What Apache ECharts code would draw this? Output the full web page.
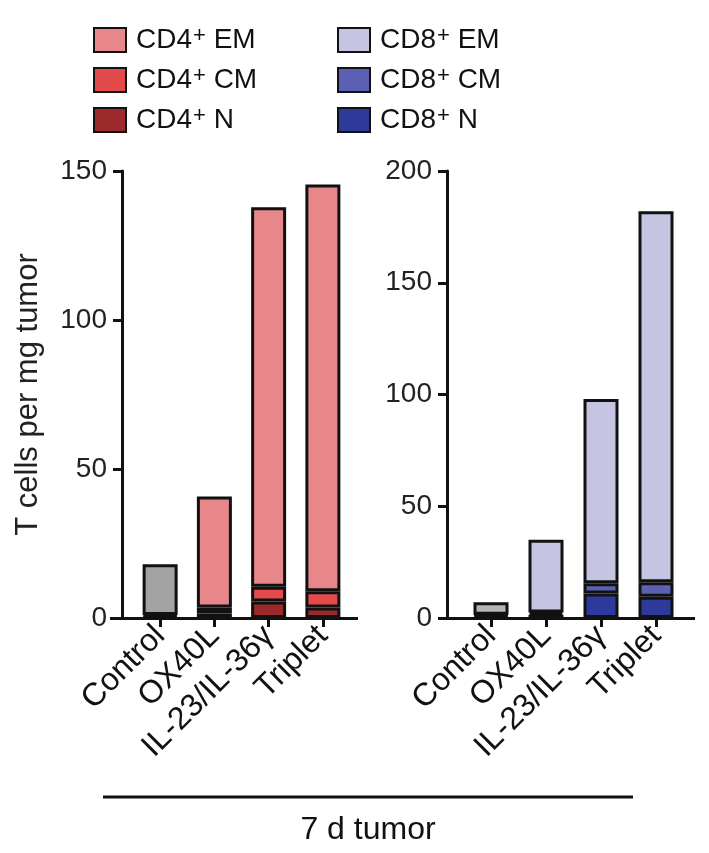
<!DOCTYPE html>
<html>
<head>
<meta charset="utf-8">
<script src="https://cdn.jsdelivr.net/npm/echarts@6/dist/echarts.min.js"></script>
<style>
html,body{margin:0;padding:0;background:#fff;}
#c{width:709px;height:853px;}
</style>
</head>
<body>
<div id="c"></div>
<script>
var categories = ['Control', 'OX40L', 'IL-23/IL-36γ', 'Triplet'];
var cd4N  = [0.5, 1.5, 5.5, 3.5];
var cd4CM = [0.5, 2.0, 5.0, 5.5];
var cd4EM = [17.0, 37.3, 127.3, 136.5];
var cd8N  = [1.0, 1.5, 11.0, 9.5];
var cd8CM = [0.5, 1.0, 4.5, 6.5];
var cd8EM = [5.5, 32.5, 82.5, 166.0];
var yTitle = 'T cells per mg tumor';
var groupTitle = '7 d tumor';

var FONT = 'Liberation Sans, Arial, Helvetica, sans-serif';
var colors = {
  cd4EM: '#E8878A', cd4CM: '#E24A4C', cd4N: '#9C2A2C',
  cd8EM: '#C5C5E3', cd8CM: '#5B60B2', cd8N: '#2D3A9C',
  ctrl4: '#A3A3A3', ctrl8: '#B4B4B4'
};

function withControl(arr, c) {
  return arr.map(function (v, i) {
    return i === 0 ? { value: v, itemStyle: { color: c } } : v;
  });
}

function barSeries(name, data, color, axisIdx, stack) {
  return {
    name: name, type: 'bar', stack: stack,
    xAxisIndex: axisIdx, yAxisIndex: axisIdx,
    data: data, barWidth: 35,
    itemStyle: { color: color, borderColor: '#111', borderWidth: 3 },
    emphasis: { disabled: true }
  };
}

function legendFmt(name) {
  var p = name.split('+');
  return '{g|}{b|' + p[0] + '}{s|+}{b|' + p[1] + '}';
}
var legendText = {
  fontFamily: FONT, color: '#111',
  rich: {
    g: { width: 5, height: 10, lineHeight: 30, verticalAlign: 'middle' },
    b: { fontSize: 28, fontFamily: FONT, color: '#111', lineHeight: 30, verticalAlign: 'middle' },
    s: { fontSize: 22, fontFamily: FONT, color: '#111', lineHeight: 13, verticalAlign: 'top', padding: [0, 0, 0, 1] }
  }
};

function yAx(gi, max, interval, offset, showName) {
  return {
    type: 'value', gridIndex: gi, min: 0, max: max, interval: interval, offset: offset,
    axisLine: { show: true, lineStyle: { color: '#111', width: 3 } },
    axisTick: { show: true, length: 9, lineStyle: { color: '#111', width: 3 } },
    axisLabel: { fontSize: 28, fontFamily: FONT, color: '#222', margin: 15 },
    splitLine: { show: false },
    name: showName ? yTitle : '', nameLocation: 'middle', nameGap: 78, nameRotate: 90,
    nameTextStyle: { fontSize: 31, fontFamily: FONT, color: '#222' }
  };
}
function xAx(gi) {
  return {
    type: 'category', gridIndex: gi, data: categories,
    axisLine: { show: false },
    axisTick: { show: true, alignWithLabel: true, length: 9, inside: false, lineStyle: { color: '#111', width: 3 } },
    axisLabel: { rotate: 45, fontSize: 32, fontFamily: FONT, color: '#111', margin: 13, interval: 0 }
  };
}

var chart = echarts.init(document.getElementById('c'), null, { renderer: 'canvas' });
var option = {
  backgroundColor: '#fff',
  animation: false,
  grid: [
    { left: 133, width: 217, top: 171, bottom: 235, containLabel: false },
    { left: 463.5, width: 220, top: 171, bottom: 235, containLabel: false }
  ],
  legend: [
    { orient: 'vertical', left: 88, top: 20, itemWidth: 32, itemHeight: 24, itemGap: 11,
      data: ['CD4+ EM', 'CD4+ CM', 'CD4+ N'], formatter: legendFmt, textStyle: legendText,
      selectedMode: false, icon: 'rect' },
    { orient: 'vertical', left: 332, top: 20, itemWidth: 32, itemHeight: 24, itemGap: 11,
      data: ['CD8+ EM', 'CD8+ CM', 'CD8+ N'], formatter: legendFmt, textStyle: legendText,
      selectedMode: false, icon: 'rect' }
  ],
  xAxis: [xAx(0), xAx(1)],
  yAxis: [yAx(0, 150, 50, 11, true), yAx(1, 200, 50, 16.5, false)],
  series: [
    barSeries('CD4+ N', withControl(cd4N, colors.ctrl4), colors.cd4N, 0, 'cd4'),
    barSeries('CD4+ CM', withControl(cd4CM, colors.ctrl4), colors.cd4CM, 0, 'cd4'),
    barSeries('CD4+ EM', withControl(cd4EM, colors.ctrl4), colors.cd4EM, 0, 'cd4'),
    barSeries('CD8+ N', withControl(cd8N, colors.ctrl8), colors.cd8N, 1, 'cd8'),
    barSeries('CD8+ CM', withControl(cd8CM, colors.ctrl8), colors.cd8CM, 1, 'cd8'),
    barSeries('CD8+ EM', withControl(cd8EM, colors.ctrl8), colors.cd8EM, 1, 'cd8')
  ],
  graphic: [
    { type: 'line', shape: { x1: 110, y1: 618.5, x2: 358, y2: 618.5 }, style: { stroke: '#111', lineWidth: 3 } },
    { type: 'line', shape: { x1: 444, y1: 618.5, x2: 695, y2: 618.5 }, style: { stroke: '#111', lineWidth: 3 } },
    { type: 'line', shape: { x1: 103, y1: 797, x2: 633, y2: 797 }, style: { stroke: '#111', lineWidth: 3 } },
    { type: 'text', x: 368, y: 830, style: { text: groupTitle, fontSize: 32, fontFamily: FONT, fill: '#111', textAlign: 'center', textVerticalAlign: 'middle' } }
  ]
};
chart.setOption(option);
</script>
</body>
</html>
